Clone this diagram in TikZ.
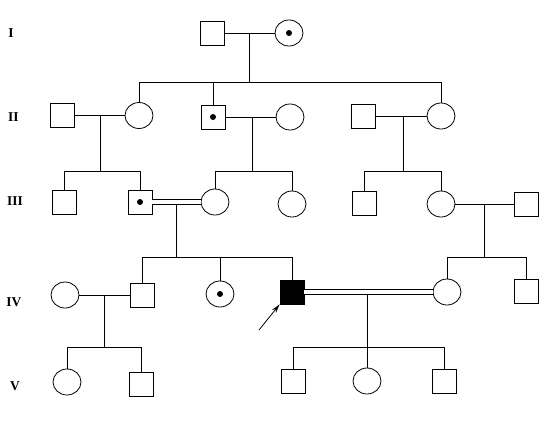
\documentclass[tikz,border=0pt]{standalone}
\usepackage{fontspec}
\setmainfont{Liberation Serif}
\usetikzlibrary{shapes.geometric,arrows.meta}

\begin{document}
\begin{tikzpicture}[x=1pt,y=-1pt,line width=0.8pt,
    male/.style={draw,rectangle,minimum size=24pt,inner sep=0pt},
    female/.style={draw,ellipse,minimum width=28pt,minimum height=26pt,inner sep=0pt},
    carrier/.style={path picture={\fill (path picture bounding box.center) circle (3pt);}},
    affected/.style={fill=black},
    gen/.style={font=\bfseries\fontsize{13.5}{14}\selectfont}]
  \useasboundingbox (0,0) rectangle (557,421);

  % generations
  \node[gen] (g1) at (11,33) {I};
  \node[gen] (g2) at (13.5,117) {II};
  \node[gen] (g3) at (15,201.5) {III};
  \node[gen] (g4) at (14,302.5) {IV};
  \node[gen] (g5) at (15,386) {V};

  % individuals
  \node[male] (i1) at (212,33) {};
  \node[female,carrier] (i2) at (289,33) {};

  \node[male] (ii1) at (62,115.5) {};
  \node[female] (ii2) at (139,115.5) {};
  \node[male,carrier] (ii3) at (213,117) {};
  \node[female] (ii4) at (290,117) {};
  \node[male] (ii5) at (363,116) {};
  \node[female] (ii6) at (441,116) {};

  \node[male] (iii1) at (64,202) {};
  \node[male,carrier] (iii2) at (140,202) {};
  \node[female] (iii3) at (215,202) {};
  \node[female] (iii4) at (292,204) {};
  \node[male] (iii5) at (364,203) {};
  \node[female] (iii6) at (441,204) {};
  \node[male] (iii7) at (526,204) {};

  \node[female] (iv1) at (65,295) {};
  \node[male] (iv2) at (142,295) {};
  \node[female,carrier] (iv3) at (220,294) {};
  \node[male,affected] (iv4) at (292,292) {};
  \node[female] (iv5) at (447,292) {};
  \node[male] (iv6) at (526,291) {};

  \node[female] (v1) at (67,382) {};
  \node[male] (v2) at (141,384) {};
  \node[male] (v3) at (293,381) {};
  \node[female] (v4) at (367,381) {};
  \node[male] (v5) at (444,381) {};

  % families
  \coordinate (f1) at (249,33);    \coordinate (s1) at (249,82);
  \coordinate (f2) at (100,115.5); \coordinate (s2) at (100,171);
  \coordinate (f3) at (252,117);   \coordinate (s3) at (252,171);
  \coordinate (f4) at (403,116);   \coordinate (s4) at (403,171);
  \coordinate (f5) at (176,202);   \coordinate (s5) at (176,257);
  \coordinate (f6) at (484,204);   \coordinate (s6) at (484,257);
  \coordinate (f7) at (104,295);   \coordinate (s7) at (104,347);
  \coordinate (f8) at (367,292);   \coordinate (s8) at (367,347);

  \draw (i1) -- (i2);
  \draw (ii1) -- (ii2);
  \draw (ii3) -- (ii4);
  \draw (ii5) -- (ii6);
  \draw (iii6) -- (iii7);
  \draw (iv1) -- (iv2);

  \draw (f1) -- (s1);
  \foreach \c in {ii2,ii3,ii6} \draw (\c) |- (s1);
  \draw (f2) -- (s2);
  \foreach \c in {iii1,iii2} \draw (\c) |- (s2);
  \draw (f3) -- (s3);
  \foreach \c in {iii3,iii4} \draw (\c) |- (s3);
  \draw (f4) -- (s4);
  \foreach \c in {iii5,iii6} \draw (\c) |- (s4);
  \draw (f5) -- (s5);
  \foreach \c in {iv2,iv3,iv4} \draw (\c) |- (s5);
  \draw (f6) -- (s6);
  \foreach \c in {iv5,iv6} \draw (\c) |- (s6);
  \draw (f7) -- (s7);
  \foreach \c in {v1,v2} \draw (\c) |- (s7);
  \draw (f8) -- (s8);
  \foreach \c in {v3,v4,v5} \draw (\c) |- (s8);

  % consanguineous
  \draw[double,double distance=4pt] (iii2) -- (iii3);
  \draw[double,double distance=4pt] (iv4) -- (iv5);

  % proband
  \coordinate (pa) at (259,330);
  \draw[-{Stealth[length=9pt,width=5pt]}] (pa) -- (iv4.south west);
\end{tikzpicture}
\end{document}
